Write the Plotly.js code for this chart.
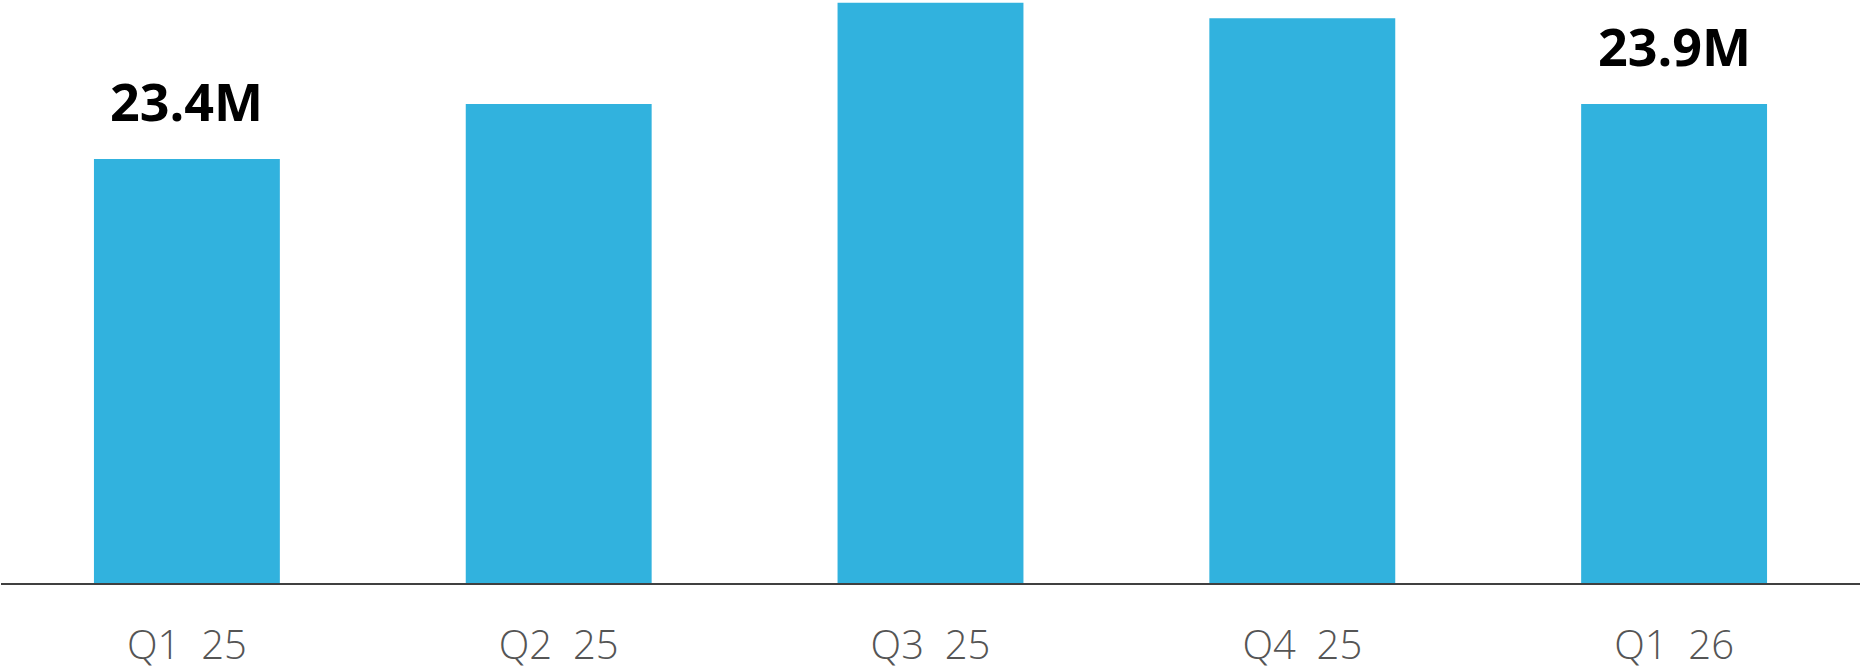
<!DOCTYPE html>
<html>
<head>
<meta charset="utf-8">
<script src="https://cdn.plot.ly/plotly-3.0.1.min.js"></script>
<style>
  html, body { margin: 0; padding: 0; background: #ffffff; }
  #chart { width: 1863px; height: 670px; }
</style>
</head>
<body>
<div id="chart"></div>
<script>
// Data
const categories = ["Q1 25", "Q2 25", "Q3 25", "Q4 25", "Q1 26"];
const tickLabels = ["Q1\u00a0\u00a025", "Q2\u00a0\u00a025", "Q3\u00a0\u00a025", "Q4\u00a0\u00a025", "Q1\u00a0\u00a026"];
const values = [23.4, 23.9, 24.82, 24.68, 23.9];
const valueLabels = ["23.4M", "", "", "", "23.9M"];

const barTrace = {
  type: "bar",
  x: categories,
  y: values,
  marker: { color: "#31B2DE", line: { width: 0 } },
  hoverinfo: "none"
};

const annotations = [];
categories.forEach((c, i) => {
  if (valueLabels[i]) {
    annotations.push({
      x: c, y: values[i], xref: "x", yref: "y",
      text: valueLabels[i],
      showarrow: false,
      yanchor: "bottom",
      yshift: 21,
      font: { family: "'Open Sans', 'Noto Sans', sans-serif", size: 52, color: "#000000", weight: 700 }
    });
  }
});

const layout = {
  width: 1863,
  height: 670,
  margin: { l: 1, r: 3, t: 0, b: 87, pad: 0 },
  paper_bgcolor: "#ffffff",
  plot_bgcolor: "#ffffff",
  bargap: 0.5,
  showlegend: false,
  xaxis: {
    type: "category",
    tickmode: "array",
    tickvals: categories,
    ticktext: tickLabels,
    showline: true,
    linecolor: "#404040",
    linewidth: 2,
    showgrid: false,
    zeroline: false,
    ticks: "outside",
    ticklen: 26,
    tickcolor: "rgba(0,0,0,0)",
    tickfont: { family: "'Open Sans', 'Noto Sans', sans-serif", size: 40, color: "#555555", weight: 300 },
    fixedrange: true
  },
  yaxis: {
    range: [19.545, 24.845],
    visible: false,
    showgrid: false,
    zeroline: false,
    fixedrange: true
  },
  annotations: annotations
};

Plotly.newPlot("chart", [barTrace], layout, { displayModeBar: false, staticPlot: true });
</script>
</body>
</html>
